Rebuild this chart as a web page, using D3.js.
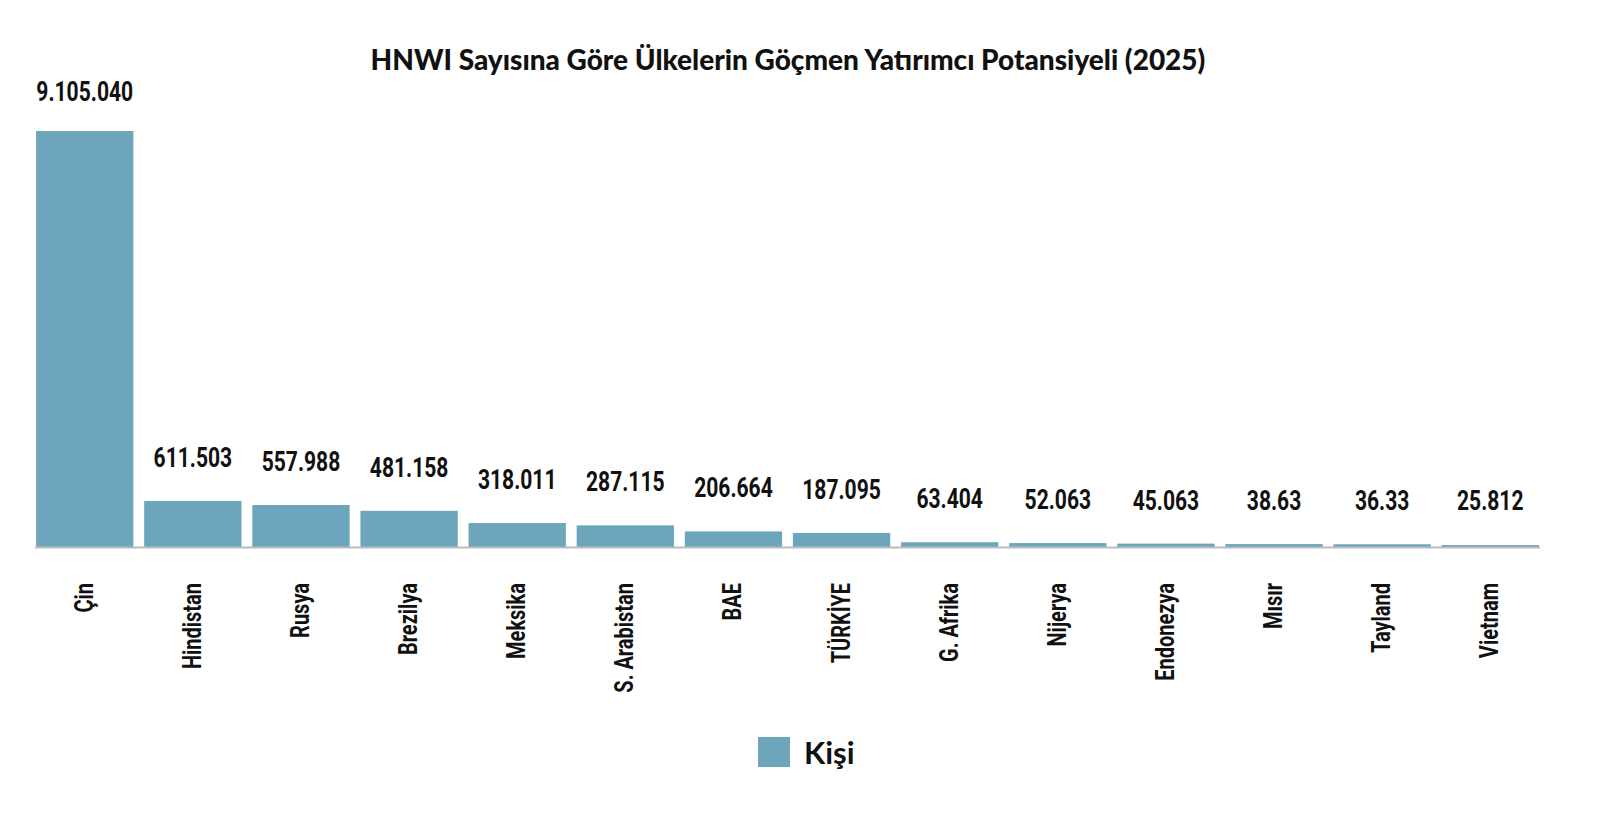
<!DOCTYPE html>
<html><head><meta charset="utf-8">
<script src="https://cdn.jsdelivr.net/npm/d3@7/dist/d3.min.js"></script>
<style>body{margin:0;background:#fff}</style></head>
<body><svg id="c" width="1600" height="815"></svg>
<script>
const categories=["Çin","Hindistan","Rusya","Brezilya","Meksika","S. Arabistan","BAE","TÜRKİYE","G. Afrika","Nijerya","Endonezya","Mısır","Tayland","Vietnam"];
const values=[9105040,611503,557988,481158,318011,287115,206664,187095,63404,52063,45063,38630,36330,25812];
const valueLabels=["9.105.040","611.503","557.988","481.158","318.011","287.115","206.664","187.095","63.404","52.063","45.063","38.63","36.33","25.812"];
const seriesName="Kişi";
const color="#6ca5bc";
const font="Roboto,'Liberation Sans',sans-serif";
const svg=d3.select("#c");
const x=d3.scaleBand().domain(categories).range([35,1540]).paddingInner(0.1).paddingOuter(0.01);
const y=d3.scaleLinear().domain([0,5530000]).range([547,131]).clamp(true);
svg.append("text").attr("x",788).attr("y",70).attr("text-anchor","middle")
 .attr("font-family","Lato,'Open Sans',sans-serif").attr("font-weight","900").attr("font-size",28)
 .attr("fill","#111").text("HNWI Sayısına Göre Ülkelerin Göçmen Yatırımcı Potansiyeli (2025)");
svg.selectAll("rect.b").data(values).join("rect").attr("class","b")
 .attr("x",(d,i)=>x(categories[i])).attr("width",x.bandwidth())
 .attr("y",d=>y(d)).attr("height",d=>547-y(d)).attr("fill",color);
svg.append("line").attr("x1",35).attr("x2",1540).attr("y1",547.5).attr("y2",547.5).attr("stroke","#bbb").attr("stroke-width",2);
svg.selectAll("text.v").data(values).join("text").attr("class","v")
 .attr("transform",(d,i)=>`translate(${x(categories[i])+x.bandwidth()/2},${i==0?y(d)-30:Math.min(y(d)-34,510)}) scale(0.78,1)`)
 .attr("text-anchor","middle").attr("font-family",font).attr("font-weight","bold").attr("font-size",27)
 .attr("fill","#111").text((d,i)=>valueLabels[i]);
svg.selectAll("text.c").data(categories).join("text").attr("class","c")
 .attr("transform",d=>`translate(${x(d)+x.bandwidth()/2+8},583) rotate(-90) scale(0.8,1)`)
 .attr("text-anchor","end").attr("font-family",font).attr("font-weight","bold").attr("font-size",25)
 .attr("fill","#111").text(d=>d);
svg.append("rect").attr("x",758).attr("y",737).attr("width",32).attr("height",30).attr("fill",color);
svg.append("text").attr("x",804).attr("y",764).attr("font-family","Lato,'Open Sans',sans-serif").attr("font-weight","bold").attr("font-size",31).attr("fill","#111").text(seriesName);
</script></body></html>
